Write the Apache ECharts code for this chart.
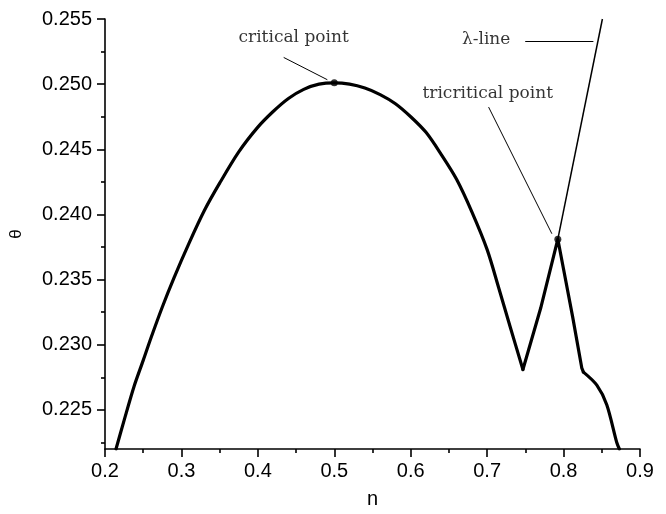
<!DOCTYPE html>
<html>
<head>
<meta charset="utf-8">
<script src="https://cdn.jsdelivr.net/npm/echarts@6/dist/echarts.min.js"></script>
<style>
  html, body { margin: 0; padding: 0; background: #ffffff; }
  #chart { width: 666px; height: 514px; }
</style>
</head>
<body>
<div id="chart"></div>
<script>
// Coexistence curve theta(n), in three pieces:
// the low-density arc up to the minimum, the cusp at the tricritical point, and the high-density tail
const arcN = [
  0.2144, 0.2250, 0.2380, 0.2500, 0.2600, 0.2750, 0.2900, 0.3100, 0.3300, 0.3500,
  0.3750, 0.4000, 0.4200, 0.4400, 0.4600, 0.4800, 0.5000, 0.5200, 0.5400, 0.5600,
  0.5800, 0.6000, 0.6200, 0.6400, 0.6600, 0.6800, 0.7000, 0.7150, 0.7300, 0.7468
];
const arcTheta = [
  0.2220, 0.2242, 0.2268, 0.2288, 0.2305, 0.2329, 0.2351, 0.2378, 0.2403, 0.2424,
  0.2448, 0.2467, 0.2479, 0.2489, 0.2496, 0.2500, 0.2501, 0.2500, 0.2497, 0.2492,
  0.2485, 0.2475, 0.2463, 0.2446, 0.2427, 0.2402, 0.2373, 0.2344, 0.2314, 0.2281
];
const cuspN = [0.7468, 0.7700, 0.7925, 0.8000, 0.8120, 0.8239, 0.8260];
const cuspTheta = [0.2281, 0.2328, 0.2381, 0.2358, 0.2321, 0.2282, 0.2279];
const tailN = [0.8260, 0.8435, 0.8565, 0.8696, 0.8730];
const tailTheta = [0.2279, 0.2269, 0.2254, 0.2225, 0.2220];

// lambda-line from the tricritical point upward
const lambdaN = [0.7925, 0.8508];
const lambdaTheta = [0.2381, 0.2550];

// critical and tricritical points
const pointN = [0.5000, 0.7925];
const pointTheta = [0.2501, 0.2381];

// annotation texts and their anchors
const noteLabels = ['critical point', '\u03bb-line', 'tricritical point'];
const noteN = [0.4468, 0.6987, 0.7008];
const noteTheta = [0.25356, 0.25341, 0.24925];

// leader lines from the texts to the features
const leaderFromN = [0.4338, 0.7498, 0.7019];
const leaderFromTheta = [0.25205, 0.25328, 0.24824];
const leaderToN = [0.4909, 0.8390, 0.7847];
const leaderToTheta = [0.25034, 0.25328, 0.23852];

// axis ticks
const yTicks = [0.225, 0.230, 0.235, 0.240, 0.245, 0.250, 0.255];
const yMinorTicks = [0.2225, 0.2275, 0.2325, 0.2375, 0.2425, 0.2475, 0.2525];

const zip = (a, b) => a.map((v, i) => [v, b[i]]);

const chart = echarts.init(document.getElementById('chart'), null, { renderer: 'canvas' });

const axisFont = { fontFamily: 'Liberation Sans', fontSize: 20, color: '#000' };
const noteFont = { fontFamily: 'DejaVu Serif', fontSize: 17, color: '#000' };
const curveStyle = { color: '#000', width: 3.2, join: 'round', cap: 'round' };

function curve(name, n, theta, smooth) {
  return {
    name: name,
    type: 'line',
    data: zip(n, theta),
    showSymbol: false,
    clip: true,
    smooth: smooth,
    lineStyle: curveStyle,
    silent: true
  };
}

chart.setOption({
  animation: false,
  backgroundColor: '#ffffff',
  grid: { left: 104, right: 26, top: 19, bottom: 59, containLabel: false },
  xAxis: {
    type: 'value',
    min: 0.2,
    max: 0.9,
    interval: 0.1,
    name: 'n',
    nameLocation: 'middle',
    nameGap: 40,
    nameTextStyle: { fontFamily: 'Liberation Sans', fontSize: 20, color: '#000' },
    axisLine: { lineStyle: { color: '#000', width: 1.6 } },
    axisTick: { length: 8, lineStyle: { color: '#000', width: 1.6 } },
    minorTick: { show: true, splitNumber: 2, length: 4, lineStyle: { color: '#000', width: 1.6 } },
    splitLine: { show: false },
    minorSplitLine: { show: false },
    axisLabel: Object.assign({ margin: 12, formatter: v => v.toFixed(1) }, axisFont)
  },
  yAxis: [
    {
      type: 'value',
      min: 0.222,
      max: 0.255,
      name: '\u03b8',
      nameLocation: 'middle',
      nameRotate: 90,
      nameGap: 80,
      nameTextStyle: { fontFamily: 'Liberation Sans', fontSize: 17, color: '#000' },
      axisLine: { show: true, lineStyle: { color: '#000', width: 1.6 } },
      axisTick: { show: true, length: 8, customValues: yTicks, lineStyle: { color: '#000', width: 1.6 } },
      splitLine: { show: false },
      axisLabel: Object.assign({ margin: 13, customValues: yTicks, formatter: v => v.toFixed(3) }, axisFont)
    },
    {
      type: 'value',
      min: 0.222,
      max: 0.255,
      position: 'left',
      axisLine: { show: false },
      axisTick: { show: true, length: 4, customValues: yMinorTicks, lineStyle: { color: '#000', width: 1.6 } },
      axisLabel: { show: false },
      splitLine: { show: false }
    }
  ],
  series: [
    curve('arc', arcN, arcTheta, 0.3),
    curve('cusp', cuspN, cuspTheta, false),
    curve('tail', tailN, tailTheta, 0.3),
    {
      name: 'lambda',
      type: 'line',
      data: zip(lambdaN, lambdaTheta),
      showSymbol: false,
      clip: true,
      lineStyle: { color: '#000', width: 1.5 },
      silent: true
    },
    {
      name: 'points',
      type: 'scatter',
      data: zip(pointN, pointTheta),
      symbol: 'circle',
      symbolSize: 7,
      itemStyle: { color: '#000' },
      silent: true,
      z: 5
    },
    {
      name: 'notes',
      type: 'scatter',
      data: noteLabels.map((t, i) => ({ name: t, value: [noteN[i], noteTheta[i]] })),
      symbolSize: 0,
      silent: true,
      label: Object.assign({ show: true, position: 'inside', formatter: p => p.name }, noteFont),
      markLine: {
        silent: true,
        symbol: ['none', 'none'],
        label: { show: false },
        lineStyle: { color: '#000', width: 1, type: 'solid' },
        data: leaderFromN.map((n, i) => [
          { coord: [n, leaderFromTheta[i]] },
          { coord: [leaderToN[i], leaderToTheta[i]] }
        ])
      }
    }
  ]
});
</script>
</body>
</html>
